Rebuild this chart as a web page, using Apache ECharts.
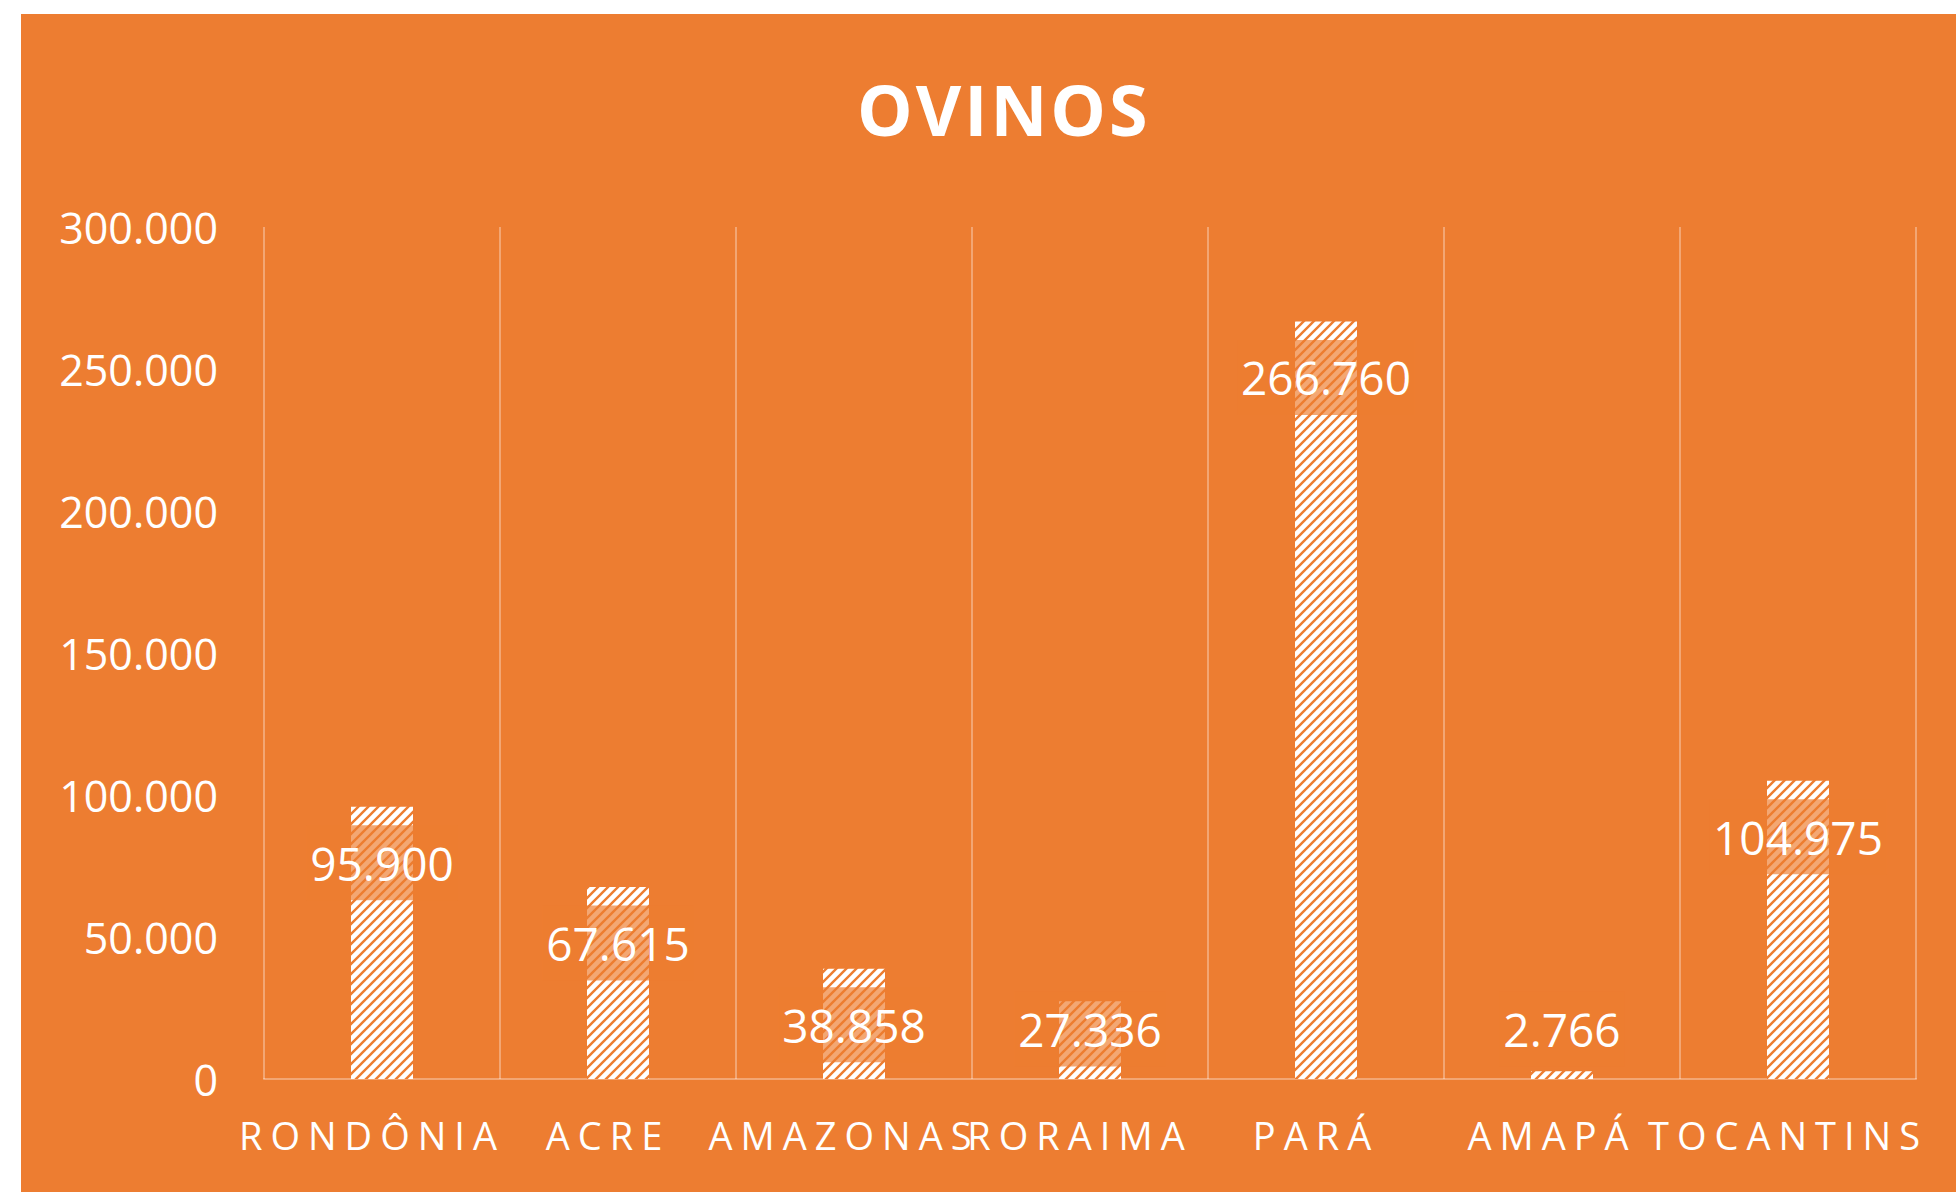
<!DOCTYPE html>
<html>
<head>
<meta charset="utf-8">
<script src="https://cdn.jsdelivr.net/npm/echarts@6/dist/echarts.min.js"></script>
<style>
  html, body { margin: 0; padding: 0; background: #ffffff; }
  #chart { position: absolute; left: 21px; top: 14px; width: 1935px; height: 1178px; }
  #chart svg text[style*="38px"] { letter-spacing: 8px; }
  #chart svg text[style*="70px"] { letter-spacing: 3px; }
</style>
</head>
<body>
<div id="chart"></div>
<script>
const title = 'OVINOS';
const categories = ['RONDÔNIA', 'ACRE', 'AMAZONAS', 'RORAIMA', 'PARÁ', 'AMAPÁ', 'TOCANTINS'];
const values = [95900, 67615, 38858, 27336, 266760, 2766, 104975];
const yTicks = { min: 0, max: 300000, interval: 50000 };

const ORANGE = '#ED7D31';

function fmt(v) {
  return String(v).replace(/\B(?=(\d{3})+(?!\d))/g, '.');
}

// hatch pattern: white with thin orange up-diagonal lines
const T = 10;
const pc = document.createElement('canvas');
pc.width = T; pc.height = T;
const ctx = pc.getContext('2d');
ctx.fillStyle = '#ffffff';
ctx.fillRect(0, 0, T, T);
ctx.strokeStyle = ORANGE;
ctx.lineWidth = 2.4;
ctx.beginPath();
ctx.moveTo(-2, T + 2); ctx.lineTo(T + 2, -2);
ctx.moveTo(-2, 2); ctx.lineTo(2, -2);
ctx.moveTo(T - 2, T + 2); ctx.lineTo(T + 2, T - 2);
ctx.stroke();

const chart = echarts.init(document.getElementById('chart'), null, { renderer: 'svg' });

chart.setOption({
  backgroundColor: ORANGE,
  animation: false,
  title: {
    text: title,
    left: 836,
    top: 58,
    padding: 0,
    textStyle: {
      color: '#ffffff',
      fontFamily: 'Open Sans',
      fontWeight: 'bold',
      fontSize: 70,
      lineHeight: 74
    }
  },
  grid: { left: 243, right: 40, top: 213, bottom: 113, containLabel: false },
  xAxis: {
    type: 'category',
    data: categories,
    boundaryGap: true,
    axisLine: { show: true, lineStyle: { color: 'rgba(255,255,255,0.32)', width: 2 } },
    axisTick: { show: false },
    splitLine: { show: true, interval: 0, lineStyle: { color: 'rgba(255,255,255,0.32)', width: 2 } },
    axisLabel: {
      interval: 0,
      hideOverlap: false,
      color: '#ffffff',
      fontFamily: 'Open Sans',
      fontSize: 38,
      lineHeight: 40,
      margin: 36,
      padding: [0, 20, 0, 0]
    }
  },
  yAxis: {
    type: 'value',
    min: yTicks.min,
    max: yTicks.max,
    interval: yTicks.interval,
    axisLine: { show: false },
    axisTick: { show: false },
    splitLine: { show: false },
    axisLabel: {
      color: '#ffffff',
      fontFamily: 'Open Sans',
      fontSize: 43,
      margin: 46,
      padding: [0, 0, 5, 0],
      formatter: fmt
    }
  },
  series: [{
    type: 'bar',
    data: values,
    barWidth: 62,
    itemStyle: {
      color: { image: pc, repeat: 'repeat', imageWidth: T, imageHeight: T }
    },
    label: {
      show: true,
      position: 'insideTop',
      color: '#ffffff',
      fontFamily: 'Open Sans',
      fontSize: 46,
      lineHeight: 57,
      padding: [9, 4],
      backgroundColor: 'rgba(237,125,49,0.68)',
      formatter: p => fmt(p.value)
    },
    labelLayout: function (params) {
      const r = params.rect;
      const bottom = r.y + r.height;
      const cy = Math.min(r.y + 56, bottom - 50);
      return { x: r.x + r.width / 2, y: cy, align: 'center', verticalAlign: 'middle' };
    }
  }]
});
</script>
</body>
</html>
